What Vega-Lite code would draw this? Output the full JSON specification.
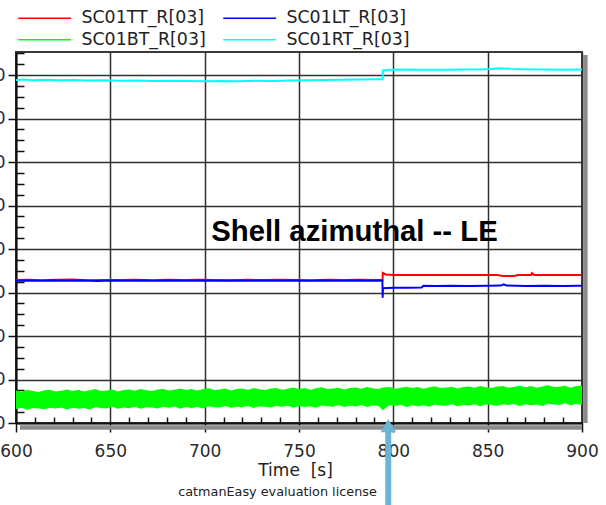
{
  "$schema": "https://vega.github.io/schema/vega-lite/v6.json",
  "width": 566,
  "height": 371,
  "autosize": {"type": "none"},
  "padding": {"left": 16, "top": 52, "right": 24, "bottom": 82},
  "background": "white",
  "config": {
    "view": {"stroke": "#3a3a3a", "strokeWidth": 2},
    "font": "DejaVu Sans"
  },
  "resolve": {"axis": {"x": "independent", "y": "independent"}},
  "datasets": {
    "band": [
      {"t": 600, "series": "SC01BT_R[03]", "hi": 7.50, "lo": 3.20},
      {"t": 603, "series": "SC01BT_R[03]", "hi": 7.21, "lo": 3.51},
      {"t": 606, "series": "SC01BT_R[03]", "hi": 7.62, "lo": 3.07},
      {"t": 609, "series": "SC01BT_R[03]", "hi": 7.33, "lo": 3.43},
      {"t": 612, "series": "SC01BT_R[03]", "hi": 7.14, "lo": 3.34},
      {"t": 615, "series": "SC01BT_R[03]", "hi": 7.51, "lo": 3.15},
      {"t": 618, "series": "SC01BT_R[03]", "hi": 7.62, "lo": 3.51},
      {"t": 621, "series": "SC01BT_R[03]", "hi": 7.23, "lo": 3.32},
      {"t": 624, "series": "SC01BT_R[03]", "hi": 7.44, "lo": 3.58},
      {"t": 627, "series": "SC01BT_R[03]", "hi": 7.70, "lo": 3.09},
      {"t": 630, "series": "SC01BT_R[03]", "hi": 7.36, "lo": 3.50},
      {"t": 633, "series": "SC01BT_R[03]", "hi": 7.62, "lo": 3.26},
      {"t": 636, "series": "SC01BT_R[03]", "hi": 7.23, "lo": 3.47},
      {"t": 639, "series": "SC01BT_R[03]", "hi": 7.54, "lo": 3.13},
      {"t": 642, "series": "SC01BT_R[03]", "hi": 7.80, "lo": 3.64},
      {"t": 645, "series": "SC01BT_R[03]", "hi": 7.37, "lo": 3.45},
      {"t": 648, "series": "SC01BT_R[03]", "hi": 7.48, "lo": 3.36},
      {"t": 651, "series": "SC01BT_R[03]", "hi": 7.69, "lo": 3.72},
      {"t": 654, "series": "SC01BT_R[03]", "hi": 7.25, "lo": 3.28},
      {"t": 657, "series": "SC01BT_R[03]", "hi": 7.61, "lo": 3.54},
      {"t": 660, "series": "SC01BT_R[03]", "hi": 7.72, "lo": 3.40},
      {"t": 663, "series": "SC01BT_R[03]", "hi": 7.43, "lo": 3.71},
      {"t": 666, "series": "SC01BT_R[03]", "hi": 7.84, "lo": 3.27},
      {"t": 669, "series": "SC01BT_R[03]", "hi": 7.55, "lo": 3.63},
      {"t": 672, "series": "SC01BT_R[03]", "hi": 7.36, "lo": 3.54},
      {"t": 675, "series": "SC01BT_R[03]", "hi": 7.73, "lo": 3.35},
      {"t": 678, "series": "SC01BT_R[03]", "hi": 7.84, "lo": 3.71},
      {"t": 681, "series": "SC01BT_R[03]", "hi": 7.45, "lo": 3.52},
      {"t": 684, "series": "SC01BT_R[03]", "hi": 7.66, "lo": 3.78},
      {"t": 687, "series": "SC01BT_R[03]", "hi": 7.92, "lo": 3.29},
      {"t": 690, "series": "SC01BT_R[03]", "hi": 7.58, "lo": 3.70},
      {"t": 693, "series": "SC01BT_R[03]", "hi": 7.84, "lo": 3.46},
      {"t": 696, "series": "SC01BT_R[03]", "hi": 7.45, "lo": 3.67},
      {"t": 699, "series": "SC01BT_R[03]", "hi": 7.76, "lo": 3.33},
      {"t": 702, "series": "SC01BT_R[03]", "hi": 8.02, "lo": 3.84},
      {"t": 705, "series": "SC01BT_R[03]", "hi": 7.59, "lo": 3.65},
      {"t": 708, "series": "SC01BT_R[03]", "hi": 7.70, "lo": 3.56},
      {"t": 711, "series": "SC01BT_R[03]", "hi": 7.91, "lo": 3.92},
      {"t": 714, "series": "SC01BT_R[03]", "hi": 7.47, "lo": 3.48},
      {"t": 717, "series": "SC01BT_R[03]", "hi": 7.83, "lo": 3.74},
      {"t": 720, "series": "SC01BT_R[03]", "hi": 7.94, "lo": 3.60},
      {"t": 723, "series": "SC01BT_R[03]", "hi": 7.65, "lo": 3.91},
      {"t": 726, "series": "SC01BT_R[03]", "hi": 8.06, "lo": 3.47},
      {"t": 729, "series": "SC01BT_R[03]", "hi": 7.77, "lo": 3.83},
      {"t": 732, "series": "SC01BT_R[03]", "hi": 7.58, "lo": 3.74},
      {"t": 735, "series": "SC01BT_R[03]", "hi": 7.95, "lo": 3.55},
      {"t": 738, "series": "SC01BT_R[03]", "hi": 8.06, "lo": 3.91},
      {"t": 741, "series": "SC01BT_R[03]", "hi": 7.67, "lo": 3.72},
      {"t": 744, "series": "SC01BT_R[03]", "hi": 7.88, "lo": 3.98},
      {"t": 747, "series": "SC01BT_R[03]", "hi": 8.14, "lo": 3.49},
      {"t": 750, "series": "SC01BT_R[03]", "hi": 7.80, "lo": 3.90},
      {"t": 753, "series": "SC01BT_R[03]", "hi": 8.06, "lo": 3.66},
      {"t": 756, "series": "SC01BT_R[03]", "hi": 7.67, "lo": 3.87},
      {"t": 759, "series": "SC01BT_R[03]", "hi": 7.98, "lo": 3.53},
      {"t": 762, "series": "SC01BT_R[03]", "hi": 8.24, "lo": 4.04},
      {"t": 765, "series": "SC01BT_R[03]", "hi": 7.81, "lo": 3.85},
      {"t": 768, "series": "SC01BT_R[03]", "hi": 7.92, "lo": 3.76},
      {"t": 771, "series": "SC01BT_R[03]", "hi": 8.13, "lo": 4.12},
      {"t": 774, "series": "SC01BT_R[03]", "hi": 7.69, "lo": 3.68},
      {"t": 777, "series": "SC01BT_R[03]", "hi": 8.05, "lo": 3.94},
      {"t": 780, "series": "SC01BT_R[03]", "hi": 8.16, "lo": 3.80},
      {"t": 783, "series": "SC01BT_R[03]", "hi": 7.87, "lo": 4.11},
      {"t": 786, "series": "SC01BT_R[03]", "hi": 8.28, "lo": 3.67},
      {"t": 789, "series": "SC01BT_R[03]", "hi": 7.99, "lo": 4.03},
      {"t": 792, "series": "SC01BT_R[03]", "hi": 7.80, "lo": 3.94},
      {"t": 794.5, "series": "SC01BT_R[03]", "hi": 8.17, "lo": 2.95},
      {"t": 798, "series": "SC01BT_R[03]", "hi": 8.28, "lo": 4.11},
      {"t": 801, "series": "SC01BT_R[03]", "hi": 7.89, "lo": 3.92},
      {"t": 804, "series": "SC01BT_R[03]", "hi": 8.10, "lo": 4.18},
      {"t": 807, "series": "SC01BT_R[03]", "hi": 8.36, "lo": 3.69},
      {"t": 810, "series": "SC01BT_R[03]", "hi": 8.02, "lo": 4.10},
      {"t": 813, "series": "SC01BT_R[03]", "hi": 8.28, "lo": 3.86},
      {"t": 816, "series": "SC01BT_R[03]", "hi": 7.89, "lo": 4.07},
      {"t": 819, "series": "SC01BT_R[03]", "hi": 8.20, "lo": 3.73},
      {"t": 822, "series": "SC01BT_R[03]", "hi": 8.46, "lo": 4.24},
      {"t": 825, "series": "SC01BT_R[03]", "hi": 8.03, "lo": 4.05},
      {"t": 828, "series": "SC01BT_R[03]", "hi": 8.14, "lo": 3.96},
      {"t": 831, "series": "SC01BT_R[03]", "hi": 8.35, "lo": 4.32},
      {"t": 834, "series": "SC01BT_R[03]", "hi": 7.91, "lo": 3.88},
      {"t": 837, "series": "SC01BT_R[03]", "hi": 8.27, "lo": 4.14},
      {"t": 840, "series": "SC01BT_R[03]", "hi": 8.38, "lo": 4.00},
      {"t": 843, "series": "SC01BT_R[03]", "hi": 8.09, "lo": 4.31},
      {"t": 846, "series": "SC01BT_R[03]", "hi": 8.50, "lo": 3.87},
      {"t": 849, "series": "SC01BT_R[03]", "hi": 8.21, "lo": 4.23},
      {"t": 852, "series": "SC01BT_R[03]", "hi": 8.02, "lo": 4.14},
      {"t": 855, "series": "SC01BT_R[03]", "hi": 8.39, "lo": 3.95},
      {"t": 858, "series": "SC01BT_R[03]", "hi": 8.50, "lo": 4.31},
      {"t": 861, "series": "SC01BT_R[03]", "hi": 8.11, "lo": 4.12},
      {"t": 864, "series": "SC01BT_R[03]", "hi": 8.32, "lo": 4.38},
      {"t": 867, "series": "SC01BT_R[03]", "hi": 8.58, "lo": 3.89},
      {"t": 870, "series": "SC01BT_R[03]", "hi": 8.24, "lo": 4.30},
      {"t": 873, "series": "SC01BT_R[03]", "hi": 8.50, "lo": 4.06},
      {"t": 876, "series": "SC01BT_R[03]", "hi": 8.11, "lo": 4.27},
      {"t": 879, "series": "SC01BT_R[03]", "hi": 8.42, "lo": 3.93},
      {"t": 882, "series": "SC01BT_R[03]", "hi": 8.68, "lo": 4.44},
      {"t": 885, "series": "SC01BT_R[03]", "hi": 8.25, "lo": 4.25},
      {"t": 888, "series": "SC01BT_R[03]", "hi": 8.36, "lo": 4.16},
      {"t": 891, "series": "SC01BT_R[03]", "hi": 8.57, "lo": 4.52},
      {"t": 894, "series": "SC01BT_R[03]", "hi": 8.13, "lo": 4.08},
      {"t": 897, "series": "SC01BT_R[03]", "hi": 8.49, "lo": 4.34},
      {"t": 900, "series": "SC01BT_R[03]", "hi": 8.60, "lo": 4.20}
    ],
    "lines": [
      {"t": 600, "series": "SC01RT_R[03]", "v": 78.85},
      {"t": 604, "series": "SC01RT_R[03]", "v": 78.98},
      {"t": 609, "series": "SC01RT_R[03]", "v": 78.82},
      {"t": 615, "series": "SC01RT_R[03]", "v": 78.9},
      {"t": 622, "series": "SC01RT_R[03]", "v": 78.78},
      {"t": 630, "series": "SC01RT_R[03]", "v": 78.84},
      {"t": 638, "series": "SC01RT_R[03]", "v": 78.72},
      {"t": 646, "series": "SC01RT_R[03]", "v": 78.78},
      {"t": 655, "series": "SC01RT_R[03]", "v": 78.68},
      {"t": 664, "series": "SC01RT_R[03]", "v": 78.74},
      {"t": 673, "series": "SC01RT_R[03]", "v": 78.64},
      {"t": 682, "series": "SC01RT_R[03]", "v": 78.7},
      {"t": 691, "series": "SC01RT_R[03]", "v": 78.62},
      {"t": 700, "series": "SC01RT_R[03]", "v": 78.6},
      {"t": 709, "series": "SC01RT_R[03]", "v": 78.66},
      {"t": 718, "series": "SC01RT_R[03]", "v": 78.6},
      {"t": 727, "series": "SC01RT_R[03]", "v": 78.68},
      {"t": 736, "series": "SC01RT_R[03]", "v": 78.64},
      {"t": 745, "series": "SC01RT_R[03]", "v": 78.74},
      {"t": 754, "series": "SC01RT_R[03]", "v": 78.78},
      {"t": 763, "series": "SC01RT_R[03]", "v": 78.86},
      {"t": 772, "series": "SC01RT_R[03]", "v": 78.92},
      {"t": 781, "series": "SC01RT_R[03]", "v": 79.0},
      {"t": 790, "series": "SC01RT_R[03]", "v": 79.05},
      {"t": 794.3, "series": "SC01RT_R[03]", "v": 79.05},
      {"t": 794.5, "series": "SC01RT_R[03]", "v": 81.05},
      {"t": 798, "series": "SC01RT_R[03]", "v": 81.2},
      {"t": 805, "series": "SC01RT_R[03]", "v": 81.25},
      {"t": 813, "series": "SC01RT_R[03]", "v": 81.2},
      {"t": 822, "series": "SC01RT_R[03]", "v": 81.24},
      {"t": 830, "series": "SC01RT_R[03]", "v": 81.22},
      {"t": 838, "series": "SC01RT_R[03]", "v": 81.26},
      {"t": 846, "series": "SC01RT_R[03]", "v": 81.3},
      {"t": 852, "series": "SC01RT_R[03]", "v": 81.38},
      {"t": 856, "series": "SC01RT_R[03]", "v": 81.55},
      {"t": 862, "series": "SC01RT_R[03]", "v": 81.42},
      {"t": 868, "series": "SC01RT_R[03]", "v": 81.35},
      {"t": 874, "series": "SC01RT_R[03]", "v": 81.3},
      {"t": 880, "series": "SC01RT_R[03]", "v": 81.26},
      {"t": 890, "series": "SC01RT_R[03]", "v": 81.24},
      {"t": 900, "series": "SC01RT_R[03]", "v": 81.26},
      {"t": 600, "series": "SC01TT_R[03]", "v": 32.85},
      {"t": 607, "series": "SC01TT_R[03]", "v": 32.95},
      {"t": 614, "series": "SC01TT_R[03]", "v": 32.82},
      {"t": 622, "series": "SC01TT_R[03]", "v": 32.92},
      {"t": 630, "series": "SC01TT_R[03]", "v": 32.97},
      {"t": 638, "series": "SC01TT_R[03]", "v": 32.8},
      {"t": 646, "series": "SC01TT_R[03]", "v": 32.9},
      {"t": 655, "series": "SC01TT_R[03]", "v": 32.86},
      {"t": 663, "series": "SC01TT_R[03]", "v": 32.96},
      {"t": 672, "series": "SC01TT_R[03]", "v": 32.82},
      {"t": 680, "series": "SC01TT_R[03]", "v": 32.92},
      {"t": 689, "series": "SC01TT_R[03]", "v": 32.86},
      {"t": 697, "series": "SC01TT_R[03]", "v": 32.95},
      {"t": 706, "series": "SC01TT_R[03]", "v": 32.88},
      {"t": 714, "series": "SC01TT_R[03]", "v": 32.8},
      {"t": 723, "series": "SC01TT_R[03]", "v": 32.92},
      {"t": 731, "series": "SC01TT_R[03]", "v": 32.86},
      {"t": 740, "series": "SC01TT_R[03]", "v": 32.96},
      {"t": 748, "series": "SC01TT_R[03]", "v": 32.9},
      {"t": 757, "series": "SC01TT_R[03]", "v": 32.84},
      {"t": 765, "series": "SC01TT_R[03]", "v": 32.95},
      {"t": 774, "series": "SC01TT_R[03]", "v": 32.88},
      {"t": 782, "series": "SC01TT_R[03]", "v": 32.92},
      {"t": 790, "series": "SC01TT_R[03]", "v": 32.86},
      {"t": 794.3, "series": "SC01TT_R[03]", "v": 32.9},
      {"t": 794.4, "series": "SC01TT_R[03]", "v": 34.5},
      {"t": 796, "series": "SC01TT_R[03]", "v": 34.15},
      {"t": 800, "series": "SC01TT_R[03]", "v": 34.05},
      {"t": 806, "series": "SC01TT_R[03]", "v": 34.0},
      {"t": 815, "series": "SC01TT_R[03]", "v": 34.02},
      {"t": 825, "series": "SC01TT_R[03]", "v": 34.0},
      {"t": 835, "series": "SC01TT_R[03]", "v": 34.03},
      {"t": 845, "series": "SC01TT_R[03]", "v": 34.0},
      {"t": 855, "series": "SC01TT_R[03]", "v": 34.02},
      {"t": 858, "series": "SC01TT_R[03]", "v": 33.8},
      {"t": 864, "series": "SC01TT_R[03]", "v": 33.82},
      {"t": 866, "series": "SC01TT_R[03]", "v": 34.0},
      {"t": 873, "series": "SC01TT_R[03]", "v": 34.05},
      {"t": 873.5, "series": "SC01TT_R[03]", "v": 34.45},
      {"t": 874.5, "series": "SC01TT_R[03]", "v": 34.05},
      {"t": 882, "series": "SC01TT_R[03]", "v": 34.02},
      {"t": 891, "series": "SC01TT_R[03]", "v": 34.0},
      {"t": 900, "series": "SC01TT_R[03]", "v": 34.03},
      {"t": 600, "series": "SC01LT_R[03]", "v": 32.72},
      {"t": 606, "series": "SC01LT_R[03]", "v": 32.78},
      {"t": 613, "series": "SC01LT_R[03]", "v": 32.68},
      {"t": 620, "series": "SC01LT_R[03]", "v": 32.75},
      {"t": 628, "series": "SC01LT_R[03]", "v": 32.7},
      {"t": 635, "series": "SC01LT_R[03]", "v": 32.78},
      {"t": 643, "series": "SC01LT_R[03]", "v": 32.66},
      {"t": 651, "series": "SC01LT_R[03]", "v": 32.74},
      {"t": 659, "series": "SC01LT_R[03]", "v": 32.7},
      {"t": 667, "series": "SC01LT_R[03]", "v": 32.76},
      {"t": 675, "series": "SC01LT_R[03]", "v": 32.68},
      {"t": 683, "series": "SC01LT_R[03]", "v": 32.74},
      {"t": 691, "series": "SC01LT_R[03]", "v": 32.7},
      {"t": 699, "series": "SC01LT_R[03]", "v": 32.77},
      {"t": 707, "series": "SC01LT_R[03]", "v": 32.7},
      {"t": 715, "series": "SC01LT_R[03]", "v": 32.74},
      {"t": 723, "series": "SC01LT_R[03]", "v": 32.68},
      {"t": 731, "series": "SC01LT_R[03]", "v": 32.75},
      {"t": 739, "series": "SC01LT_R[03]", "v": 32.72},
      {"t": 747, "series": "SC01LT_R[03]", "v": 32.78},
      {"t": 755, "series": "SC01LT_R[03]", "v": 32.7},
      {"t": 763, "series": "SC01LT_R[03]", "v": 32.74},
      {"t": 771, "series": "SC01LT_R[03]", "v": 32.7},
      {"t": 779, "series": "SC01LT_R[03]", "v": 32.76},
      {"t": 787, "series": "SC01LT_R[03]", "v": 32.72},
      {"t": 794.2, "series": "SC01LT_R[03]", "v": 32.74},
      {"t": 794.35, "series": "SC01LT_R[03]", "v": 28.8},
      {"t": 794.5, "series": "SC01LT_R[03]", "v": 31.0},
      {"t": 800, "series": "SC01LT_R[03]", "v": 31.08},
      {"t": 808, "series": "SC01LT_R[03]", "v": 31.12},
      {"t": 815, "series": "SC01LT_R[03]", "v": 31.15},
      {"t": 816, "series": "SC01LT_R[03]", "v": 31.55},
      {"t": 823, "series": "SC01LT_R[03]", "v": 31.5},
      {"t": 830, "series": "SC01LT_R[03]", "v": 31.58},
      {"t": 840, "series": "SC01LT_R[03]", "v": 31.52},
      {"t": 850, "series": "SC01LT_R[03]", "v": 31.56},
      {"t": 857, "series": "SC01LT_R[03]", "v": 31.6},
      {"t": 858.5, "series": "SC01LT_R[03]", "v": 31.9},
      {"t": 860, "series": "SC01LT_R[03]", "v": 31.6},
      {"t": 870, "series": "SC01LT_R[03]", "v": 31.52},
      {"t": 880, "series": "SC01LT_R[03]", "v": 31.56},
      {"t": 890, "series": "SC01LT_R[03]", "v": 31.5},
      {"t": 898, "series": "SC01LT_R[03]", "v": 31.54},
      {"t": 900, "series": "SC01LT_R[03]", "v": 31.55}
    ]
  },
  "layer": [
    {
      "data": {"name": "band"},
      "mark": {"type": "area", "opacity": 1},
      "encoding": {
        "x": {
          "field": "t",
          "type": "quantitative",
          "scale": {"domain": [600, 900], "nice": false, "zero": false},
          "axis": {
            "orient": "bottom",
            "values": [600, 650, 700, 750, 800, 850, 900],
            "format": "d",
            "grid": true,
            "gridColor": "#303030",
            "gridWidth": 1.5,
            "domain": true,
            "domainColor": "#111111",
            "domainWidth": 2,
            "ticks": true,
            "tickColor": "#111111",
            "tickWidth": 1.5,
            "tickSize": 9,
            "labelFont": "DejaVu Sans",
            "labelFontSize": 17,
            "labelColor": "#2a2a2a",
            "labelPadding": 11,
            "labelFlush": false,
            "labelOverlap": false,
            "title": "Time\u00a0 [s]",
            "titleFont": "DejaVu Sans",
            "titleFontSize": 17,
            "titleFontWeight": "normal",
            "titleColor": "#222222",
            "titlePadding": 3,
            "titleX": 279
          }
        },
        "y": {
          "field": "hi",
          "type": "quantitative",
          "scale": {"domain": [0, 85.3], "nice": false, "zero": false},
          "axis": {
            "orient": "left",
            "values": [0, 10, 20, 30, 40, 50, 60, 70, 80],
            "format": "d",
            "grid": true,
            "gridColor": "#303030",
            "gridWidth": 1.5,
            "domain": true,
            "domainColor": "#111111",
            "domainWidth": 2,
            "ticks": true,
            "tickColor": "#111111",
            "tickWidth": 1.5,
            "tickSize": 8,
            "labelFont": "DejaVu Sans",
            "labelFontSize": 17,
            "labelColor": "#1e2a48",
            "labelPadding": 3,
            "labelOverlap": false,
            "title": null
          }
        },
        "y2": {"field": "lo"},
        "color": {
          "field": "series",
          "type": "nominal",
          "scale": {
            "domain": ["SC01TT_R[03]", "SC01LT_R[03]", "SC01BT_R[03]", "SC01RT_R[03]"],
            "range": ["#ff0000", "#0000ff", "#00ff00", "#00ffff"]
          },
          "legend": {
            "orient": "none",
            "direction": "horizontal",
            "legendX": 1,
            "legendY": -43,
            "columns": 2,
            "title": null,
            "padding": 0,
            "columnPadding": 14,
            "rowPadding": 3,
            "symbolType": "M-10,0H10",
            "symbolSize": 28,
            "symbolOffset": 19,
            "symbolStrokeWidth": 1.5,
            "labelOffset": 28,
            "labelFont": "DejaVu Sans",
            "labelFontSize": 17.4,
            "labelColor": "#222222",
            "labelLimit": 300
          }
        }
      }
    },
    {
      "data": {"name": "lines"},
      "transform": [{"filter": "datum.series === 'SC01RT_R[03]'"}],
      "mark": {"type": "line", "strokeWidth": 2},
      "encoding": {
        "x": {
          "field": "t",
          "type": "quantitative",
          "axis": {
            "orient": "bottom",
            "values": [610, 620, 630, 640, 660, 670, 680, 690, 710, 720, 730, 740, 760, 770, 780, 790, 810, 820, 830, 840, 860, 870, 880, 890],
            "labels": false,
            "grid": false,
            "domain": false,
            "ticks": true,
            "tickColor": "#111111",
            "tickWidth": 1.5,
            "tickSize": -6,
            "title": null
          }
        },
        "y": {
          "field": "v",
          "type": "quantitative",
          "axis": {
            "orient": "left",
            "values": [2.5, 5, 7.5, 12.5, 15, 17.5, 22.5, 25, 27.5, 32.5, 35, 37.5, 42.5, 45, 47.5, 52.5, 55, 57.5, 62.5, 65, 67.5, 72.5, 75, 77.5, 82.5, 85],
            "labels": false,
            "grid": false,
            "domain": false,
            "ticks": true,
            "tickColor": "#111111",
            "tickWidth": 1.5,
            "tickSize": -8,
            "title": null
          }
        },
        "color": {"field": "series", "type": "nominal"}
      }
    },
    {
      "data": {"name": "lines"},
      "transform": [{"filter": "datum.series === 'SC01TT_R[03]'"}],
      "mark": {"type": "line", "strokeWidth": 2},
      "encoding": {
        "x": {"field": "t", "type": "quantitative", "axis": null},
        "y": {"field": "v", "type": "quantitative", "axis": null},
        "color": {"field": "series", "type": "nominal"}
      }
    },
    {
      "data": {"name": "lines"},
      "transform": [{"filter": "datum.series === 'SC01LT_R[03]'"}],
      "mark": {"type": "line", "strokeWidth": 2},
      "encoding": {
        "x": {"field": "t", "type": "quantitative", "axis": null},
        "y": {"field": "v", "type": "quantitative", "axis": null},
        "color": {"field": "series", "type": "nominal"}
      }
    },
    {
      "data": {"values": [{}]},
      "mark": {"type": "rule", "color": "#8c8c8c", "strokeWidth": 4.5, "xOffset": 3.4, "yOffset": 3},
      "encoding": {
        "x": {"datum": 900, "type": "quantitative", "axis": null},
        "y": {"datum": 85.3, "type": "quantitative", "axis": null},
        "y2": {"datum": 0}
      }
    },
    {
      "data": {"values": [{}]},
      "mark": {"type": "rule", "color": "#8c8c8c", "strokeWidth": 4.5, "xOffset": 4, "yOffset": 4.5},
      "encoding": {
        "x": {"datum": 600, "type": "quantitative", "axis": null},
        "x2": {"datum": 900},
        "y": {"datum": 0, "type": "quantitative", "axis": null}
      }
    },
    {
      "data": {"values": [{}]},
      "mark": {"type": "text", "font": "Liberation Sans", "fontWeight": "bold", "fontSize": 29.3, "color": "#000000", "align": "center", "baseline": "middle"},
      "encoding": {
        "x": {"datum": 779.4, "type": "quantitative", "axis": null},
        "y": {"datum": 43.9, "type": "quantitative", "axis": null},
        "text": {"value": "Shell azimuthal -- LE"}
      }
    },
    {
      "data": {"values": [{}]},
      "mark": {"type": "text", "font": "DejaVu Sans", "fontSize": 12.8, "color": "#222222", "align": "center", "baseline": "middle"},
      "encoding": {
        "x": {"datum": 738.6, "type": "quantitative", "axis": null},
        "y": {"datum": -15.8, "type": "quantitative", "axis": null},
        "text": {"value": "catmanEasy evaluation license"}
      }
    },
    {
      "data": {"values": [{}]},
      "mark": {"type": "rule", "color": "#6ab4d6", "strokeWidth": 6},
      "encoding": {
        "x": {"datum": 797.3, "type": "quantitative", "axis": null},
        "y": {"datum": -1.6, "type": "quantitative", "axis": null},
        "y2": {"datum": -19.5}
      }
    },
    {
      "data": {"values": [{}]},
      "mark": {"type": "point", "shape": "triangle-up", "filled": true, "opacity": 1, "color": "#6ab4d6", "size": 230},
      "encoding": {
        "x": {"datum": 797.3, "type": "quantitative", "axis": null},
        "y": {"datum": -0.6, "type": "quantitative", "axis": null}
      }
    }
  ]
}
